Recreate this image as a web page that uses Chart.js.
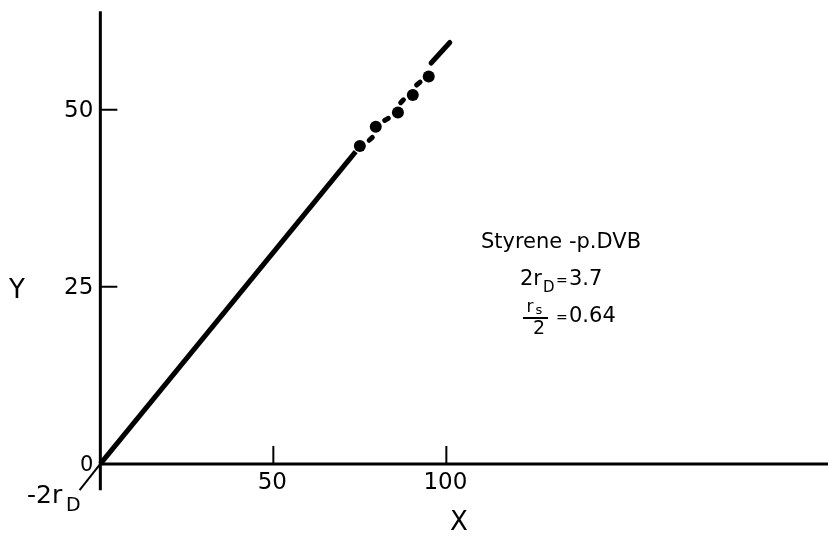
<!DOCTYPE html>
<html>
<head>
<meta charset="utf-8">
<script src="https://cdn.jsdelivr.net/npm/chart.js@4"></script>
<style>
  html, body { margin: 0; padding: 0; background: #fff; }
  #wrap { width: 828px; height: 539px; }
</style>
</head>
<body>
<div id="wrap"><canvas id="chart"></canvas></div>
<script>
// measured points (X, Y)
const pointsX = [75.0, 79.6, 86.0, 90.3, 94.9]
const pointsY = [44.9, 47.6, 49.6, 52.1, 54.7]

// fitted line pieces
const leaderX = [-6.0, 0]
const leaderY = [-3.7, 0]
const solidX = [0, 73.8]
const solidY = [0, 44.1]
// short dashes between the points (null breaks the line)
const dashX = [77.7, 78.6, null, 82.2, 83.2, null, 86.8, 87.6, null, 91.4, 92.4]
const dashY = [45.7, 46.1, null, 48.5, 48.8, null, 51.0, 51.4, null, 53.5, 53.9]
const endX = [95.6, 101.0]
const endY = [56.6, 59.5]

const xTicks = [50, 100]
const yTicks = [25, 50]

const FONT = "'DejaVu Sans', sans-serif"

function toXY(xs, ys) { return xs.map((x, i) => ({ x: x, y: ys[i] })) }

const axesPlugin = {
  id: "axes",
  beforeDatasetsDraw(chart) {
    const ctx = chart.ctx
    const sx = chart.scales.x
    const sy = chart.scales.y
    const x0 = sx.getPixelForValue(0)
    const y0 = sy.getPixelForValue(0)
    ctx.save()
    ctx.strokeStyle = "#000"
    ctx.lineWidth = 3
    ctx.beginPath()
    ctx.moveTo(x0, sy.getPixelForValue(63.9))
    ctx.lineTo(x0, sy.getPixelForValue(-3.7))
    ctx.moveTo(x0, y0)
    ctx.lineTo(chart.width, y0)
    ctx.stroke()
    ctx.lineWidth = 2
    ctx.beginPath()
    xTicks.forEach(t => {
      const p = sx.getPixelForValue(t)
      ctx.moveTo(p, y0)
      ctx.lineTo(p, y0 - 18)
    })
    yTicks.forEach(t => {
      const p = sy.getPixelForValue(t)
      ctx.moveTo(x0, p)
      ctx.lineTo(x0 + 17, p)
    })
    ctx.stroke()
    ctx.restore()
  },
  afterDraw(chart) {
    const ctx = chart.ctx
    const sx = chart.scales.x
    const sy = chart.scales.y
    const x0 = sx.getPixelForValue(0)
    const y0 = sy.getPixelForValue(0)
    ctx.save()
    ctx.fillStyle = "#000"
    ctx.strokeStyle = "#000"
    ctx.font = "23px " + FONT
    ctx.textBaseline = "middle"
    ctx.textAlign = "center"
    xTicks.forEach(t => ctx.fillText(String(t), sx.getPixelForValue(t) - 1, y0 + 19))
    ctx.textAlign = "right"
    yTicks.forEach(t => ctx.fillText(String(t), x0 - 7, sy.getPixelForValue(t) + 1))
    ctx.font = "21px " + FONT
    ctx.fillText("0", x0 - 7, y0 + 2)
    // axis titles
    ctx.textAlign = "center"
    ctx.font = "26px " + FONT
    ctx.fillText("Y", 17, 291)
    ctx.fillText("X", 459, 523)
    // -2rD
    ctx.font = "25px " + FONT
    ctx.textAlign = "left"
    ctx.fillText("-2r", 27, 496)
    ctx.font = "19px " + FONT
    ctx.fillText("D", 66, 506)
    // annotation
    ctx.font = "21px " + FONT
    ctx.textAlign = "center"
    ctx.fillText("Styrene -p.DVB", 561, 243)
    ctx.textAlign = "left"
    ctx.fillText("2r", 520, 280)
    ctx.font = "15px " + FONT
    ctx.fillText("D", 543, 288)
    ctx.font = "14px " + FONT
    ctx.fillText("=", 556, 281)
    ctx.font = "21px " + FONT
    ctx.fillText("3.7", 569, 280)
    ctx.font = "17px " + FONT
    ctx.textAlign = "center"
    ctx.fillText("r", 530, 308)
    ctx.font = "13px " + FONT
    ctx.fillText("s", 539, 311)
    ctx.lineWidth = 2
    ctx.beginPath()
    ctx.moveTo(523, 318)
    ctx.lineTo(548, 318)
    ctx.stroke()
    ctx.font = "19px " + FONT
    ctx.fillText("2", 539, 329)
    ctx.textAlign = "left"
    ctx.font = "14px " + FONT
    ctx.fillText("=", 556, 318)
    ctx.font = "21px " + FONT
    ctx.fillText("0.64", 569, 317)
    ctx.restore()
  }
}

new Chart(document.getElementById("chart"), {
  type: "scatter",
  data: {
    datasets: [
      { data: toXY(leaderX, leaderY), showLine: true, borderColor: "#000", borderWidth: 2, pointRadius: 0 },
      { data: toXY(solidX, solidY), showLine: true, borderColor: "#000", borderWidth: 5, pointRadius: 0 },
      { data: toXY(dashX, dashY), showLine: true, spanGaps: false, borderColor: "#000", borderWidth: 5, borderCapStyle: "round", pointRadius: 0 },
      { data: toXY(endX, endY), showLine: true, borderColor: "#000", borderWidth: 5, borderCapStyle: "round", pointRadius: 0 },
      { data: toXY(pointsX, pointsY), pointRadius: 6, pointBackgroundColor: "#000", pointBorderColor: "#000", pointBorderWidth: 0 }
    ]
  },
  options: {
    responsive: true,
    maintainAspectRatio: false,
    animation: false,
    layout: { padding: 0, autoPadding: false },
    plugins: { legend: { display: false }, tooltip: { enabled: false } },
    scales: {
      x: { type: "linear", min: -29, max: 210.3, display: false },
      y: { type: "linear", min: -10.6, max: 65.5, display: false }
    }
  },
  plugins: [axesPlugin]
})
</script>
</body>
</html>
